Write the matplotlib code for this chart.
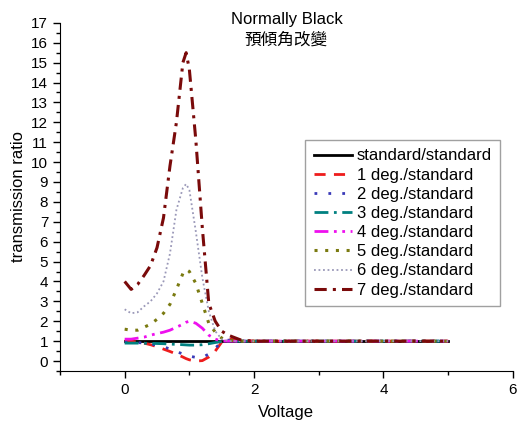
import numpy as np
import matplotlib
matplotlib.use("Agg")
import matplotlib.pyplot as plt
from matplotlib.ticker import MultipleLocator

plt.rcParams['font.family'] = ['Liberation Sans', 'Noto Sans CJK TC', 'DejaVu Sans']

# voltage samples
voltage = [0, 0.1, 0.2, 0.3, 0.4, 0.5, 0.6, 0.7, 0.8, 0.9, 0.95, 1.0, 1.1, 1.2,
           1.3, 1.4, 1.5, 1.6, 1.8, 2.0, 3.0, 4.0, 5.0]

std_std = [1.0] * len(voltage)
deg1 = [1.0, 1.0, 0.95, 0.9, 0.82, 0.72, 0.6, 0.48, 0.35, 0.2, 0.12, 0.06, 0.0, 0.02,
        0.2, 0.5, 0.95, 1.1, 1.05, 1.0, 1.0, 1.0, 1.0]
deg2 = [0.95, 0.95, 0.93, 0.9, 0.85, 0.8, 0.72, 0.6, 0.48, 0.35, 0.3, 0.25, 0.18, 0.18,
        0.35, 0.65, 0.95, 1.05, 1.0, 1.0, 1.0, 1.0, 1.0]
deg3 = [0.9, 0.9, 0.9, 0.89, 0.89, 0.88, 0.87, 0.85, 0.84, 0.82, 0.81, 0.8, 0.8, 0.82,
        0.87, 0.93, 0.98, 1.0, 1.0, 1.0, 1.0, 1.0, 1.0]
deg4 = [1.1, 1.1, 1.15, 1.2, 1.3, 1.38, 1.45, 1.55, 1.7, 1.85, 1.95, 2.0, 1.9, 1.65,
        1.3, 1.1, 1.0, 1.0, 1.0, 1.0, 1.0, 1.0, 1.0]
deg5 = [1.6, 1.55, 1.55, 1.7, 1.85, 2.1, 2.4, 2.85, 3.6, 4.4, 4.6, 4.5, 3.9, 2.9,
        1.9, 1.45, 1.15, 1.05, 1.0, 1.0, 1.0, 1.0, 1.0]
deg6 = [2.6, 2.4, 2.45, 2.75, 3.0, 3.4, 4.0, 5.4, 7.6, 8.7, 8.9, 8.6, 6.5, 4.2,
        2.5, 1.5, 1.1, 1.0, 1.0, 1.0, 1.0, 1.0, 1.0]
deg7 = [4.0, 3.6, 3.85, 4.3, 4.8, 5.7, 7.2, 9.8, 12.0, 15.0, 15.5, 14.65, 11.1, 6.7,
        2.9, 2.0, 1.5, 1.3, 1.05, 1.0, 1.0, 1.0, 1.0]

labels = ['standard/standard', '1 deg./standard', '2 deg./standard', '3 deg./standard',
          '4 deg./standard', '5 deg./standard', '6 deg./standard', '7 deg./standard']

fig, ax = plt.subplots(figsize=(5.17, 4.23), dpi=100)
fig.subplots_adjust(left=0.116, right=0.992, bottom=0.123, top=0.946)

ax.plot(voltage, std_std, color='black', lw=2, ls='-', label=labels[0])
ax.plot(voltage, deg1, color='#ee1c1c', lw=2, ls=(0, (4, 3)), label=labels[1])
ax.plot(voltage, deg2, color='#3a3ab8', lw=2, ls=(0, (1, 4)), label=labels[2])
ax.plot(voltage, deg3, color='#008080', lw=2, ls=(0, (5, 2, 1, 2)), label=labels[3])
ax.plot(voltage, deg4, color='#ee10ee', lw=2, ls=(0, (5, 2, 1, 2, 1, 2)), label=labels[4])
ax.plot(voltage, deg5, color='#7a7a10', lw=2.2, ls=(0, (1, 2.5)), label=labels[5])
ax.plot(voltage, deg6, color='#9a98b8', lw=1.3, ls=(0, (1, 1.5)), label=labels[6])
ax.plot(voltage, deg7, color='#7a0a0a', lw=2.2, ls=(0, (4, 2, 1, 2)), label=labels[7])

ax.set_xlim(-1, 6)
ax.set_ylim(-0.5, 17)
ax.xaxis.set_major_locator(MultipleLocator(2))
ax.xaxis.set_minor_locator(MultipleLocator(1))
ax.yaxis.set_major_locator(MultipleLocator(1))
ax.yaxis.set_minor_locator(MultipleLocator(0.5))
ax.tick_params(which='major', direction='out', length=5, width=1, labelsize=11)
ax.tick_params(which='minor', direction='out', length=3, width=1)
ax.spines['top'].set_visible(False)
ax.spines['right'].set_visible(False)

ax.set_xlabel('Voltage', fontsize=12, labelpad=6)
ax.set_ylabel('transmission ratio', fontsize=12)

# two-line title sits partly inside the plot area, like the original
fig.text(0.554, 0.953, 'Normally Black', ha='center', va='center', fontsize=12)
fig.text(0.554, 0.905, '預傾角改變', ha='center', va='center', fontsize=12)

leg = ax.legend(loc='center', bbox_to_anchor=(0.757, 0.425), fontsize=12,
                handlelength=2.3, handletextpad=0.3, labelspacing=0.25,
                fancybox=False, edgecolor='#888888', borderpad=0.5)
leg.get_frame().set_linewidth(1)

fig.savefig('out.png')
